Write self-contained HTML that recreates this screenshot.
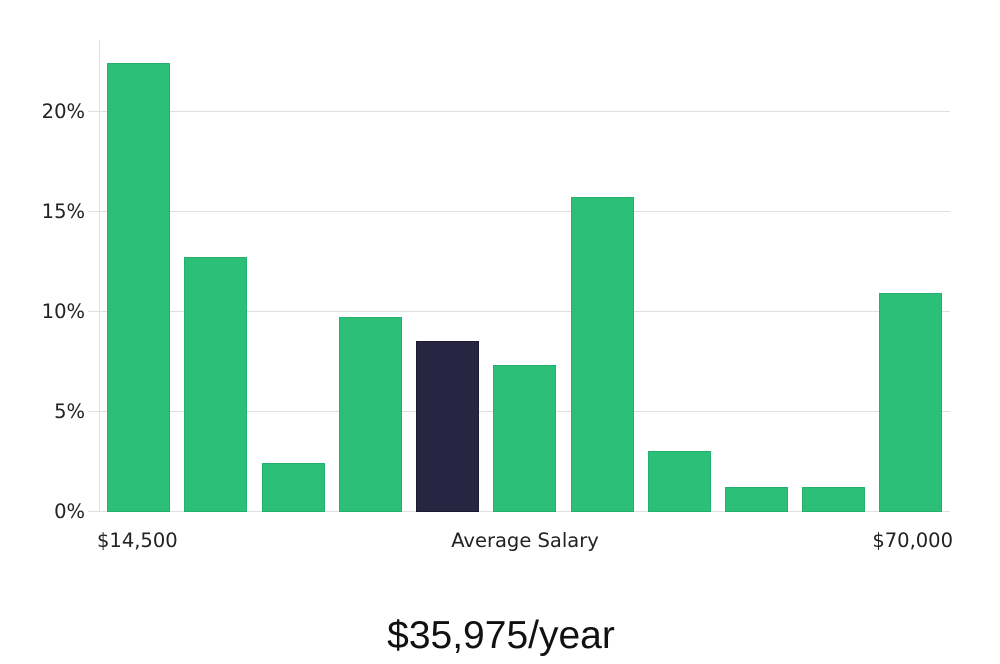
<!DOCTYPE html>
<html><head><style>
body{margin:0;background:#fff;width:1000px;height:660px;overflow:hidden;font-family:"DejaVu Sans","Liberation Sans",sans-serif}
</style></head><body>
<svg width="1000" height="660" xmlns="http://www.w3.org/2000/svg">
<g stroke="#e0e0e0" stroke-width="1">
<line x1="88" y1="111.5" x2="950" y2="111.5"/>
<line x1="88" y1="211.5" x2="950" y2="211.5"/>
<line x1="88" y1="311.5" x2="950" y2="311.5"/>
<line x1="88" y1="411.5" x2="950" y2="411.5"/>
<line x1="88" y1="511.5" x2="950" y2="511.5"/>
<line x1="99.5" y1="40" x2="99.5" y2="512"/>
</g>
<g font-size="19.5" fill="#222" text-anchor="end">
<text x="85" y="118">20%</text>
<text x="85" y="218">15%</text>
<text x="85" y="318">10%</text>
<text x="85" y="418">5%</text>
<text x="85" y="518">0%</text>
</g>
<g fill="#2bbf78" stroke="#25b06d" stroke-width="1">
<rect x="107.5" y="63.5" width="62" height="448"/>
<rect x="184.5" y="257.5" width="62" height="254"/>
<rect x="262.5" y="463.5" width="62" height="48"/>
<rect x="339.5" y="317.5" width="62" height="194"/>
<rect x="493.5" y="365.5" width="62" height="146"/>
<rect x="571.5" y="197.5" width="62" height="314"/>
<rect x="648.5" y="451.5" width="62" height="60"/>
<rect x="725.5" y="487.5" width="62" height="24"/>
<rect x="802.5" y="487.5" width="62" height="24"/>
<rect x="879.5" y="293.5" width="62" height="218"/>
</g>
<rect x="416.5" y="341.5" width="62" height="170" fill="#272541" stroke="#1c1a33"/>
<g font-size="19.5" fill="#222">
<text x="97" y="547">$14,500</text>
<text x="525" y="547" text-anchor="middle">Average Salary</text>
<text x="953" y="547" text-anchor="end">$70,000</text>
</g>
<text x="501" y="648" font-size="39" fill="#111" text-anchor="middle" font-family="'Liberation Sans',sans-serif" font-weight="300">$35,975/year</text>
</svg>
</body></html>
